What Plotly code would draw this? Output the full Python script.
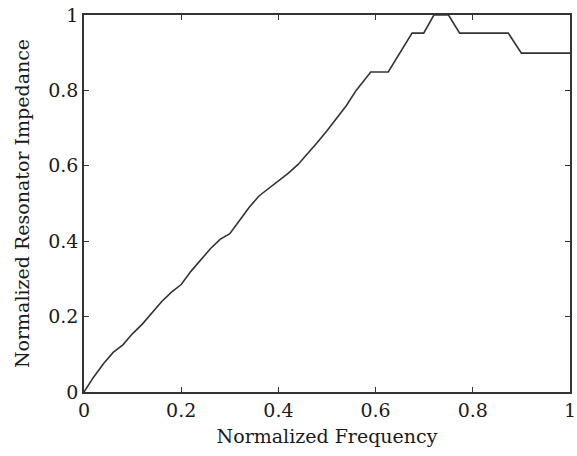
import plotly.graph_objects as go

freq = [0, 0.02, 0.04, 0.06, 0.08, 0.10, 0.12, 0.14, 0.16, 0.18, 0.20, 0.22, 0.24, 0.26,
        0.28, 0.30, 0.32, 0.34, 0.36, 0.38, 0.40, 0.42, 0.44, 0.46, 0.48, 0.50, 0.52,
        0.54, 0.56, 0.59, 0.626, 0.65, 0.675, 0.699, 0.72, 0.75, 0.773, 0.873, 0.90, 1.0]
impedance = [0, 0.04, 0.075, 0.105, 0.125, 0.155, 0.18, 0.21, 0.24, 0.265, 0.285, 0.32,
             0.35, 0.38, 0.405, 0.42, 0.455, 0.49, 0.52, 0.54, 0.56, 0.58, 0.603, 0.632,
             0.662, 0.693, 0.725, 0.76, 0.80, 0.849, 0.849, 0.9, 0.952, 0.952, 1.0, 1.0,
             0.952, 0.952, 0.899, 0.899]

tick_vals = [0, 0.2, 0.4, 0.6, 0.8, 1]
tick_text = ["0", "0.2", "0.4", "0.6", "0.8", "1"]

fig = go.Figure()
fig.add_trace(go.Scatter(x=freq, y=impedance, mode="lines",
                         line=dict(color="#333333", width=1.6), showlegend=False))

font = dict(family="DejaVu Serif, serif", size=19, color="#1a1a1a")
axis_common = dict(range=[0, 1], showgrid=False, zeroline=False, showline=True,
                   linecolor="#333333", linewidth=1.6, mirror="ticks", ticks="inside",
                   ticklen=5, tickwidth=1.4, tickcolor="#333333", automargin=False,
                   ticklabeloverflow="allow",
                   tickvals=tick_vals, ticktext=tick_text, tickfont=font)
fig.update_xaxes(**axis_common, title=dict(text="Normalized Frequency", font=font, standoff=10))
fig.update_yaxes(**axis_common, title=dict(text="Normalized Resonator Impedance", font=font, standoff=14))

fig.update_layout(width=577, height=456, margin=dict(l=84, r=7, t=15, b=64),
                  paper_bgcolor="white", plot_bgcolor="white")
fig.write_html("out.html")
